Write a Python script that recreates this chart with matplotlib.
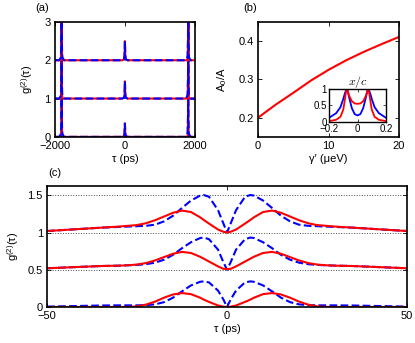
import numpy as np
import matplotlib
matplotlib.use('Agg')
import matplotlib.pyplot as plt

plt.rcParams['font.family'] = ['Liberation Sans', 'DejaVu Sans']
plt.rcParams['font.size'] = 8
plt.rcParams['mathtext.fontset'] = 'custom'
plt.rcParams['mathtext.rm'] = 'Liberation Sans'
plt.rcParams['mathtext.default'] = 'regular'
plt.rcParams['axes.linewidth'] = 1.2

RED = '#ff0000'
BLUE = '#0000ff'

# ---- panel (a): wide time window, three traces offset by 0, 1, 2
tau_a = [-2000, -1880, -1840, -1825, -1815, -1810, -1805, -1795, -1780, -1740,
         -80, -25, -10, 0, 10, 25, 80,
         1740, 1780, 1795, 1805, 1810, 1815, 1825, 1840, 1880, 2000]
red_a0 = [0, 0, 0, 0.03, 0.5, 4.0, 0.5, 0.03, 0, 0,
          0, 0.02, 0.1, 0.35, 0.1, 0.02, 0,
          0, 0, 0.03, 0.5, 4.0, 0.5, 0.03, 0, 0, 0]
red_a1 = [1, 1, 1, 1.03, 1.5, 5.0, 1.5, 1.03, 1, 1,
          1, 1.02, 1.12, 1.45, 1.12, 1.02, 1,
          1, 1, 1.03, 1.5, 5.0, 1.5, 1.03, 1, 1, 1]
red_a2 = [2, 2, 2, 2.03, 2.5, 6.0, 2.5, 2.03, 2, 2,
          2, 2.02, 2.13, 2.5, 2.13, 2.02, 2,
          2, 2, 2.03, 2.5, 6.0, 2.5, 2.03, 2, 2, 2]
blue_a0 = [0, 0, 0.06, 0.12, 0.6, 4.0, 0.6, 0.12, 0.06, 0,
           0, 0.02, 0.1, 0.35, 0.1, 0.02, 0,
           0, 0.06, 0.12, 0.6, 4.0, 0.6, 0.12, 0.06, 0, 0]
blue_a1 = [1, 1, 1.06, 1.12, 1.6, 5.0, 1.6, 1.12, 1.06, 1,
           1, 1.02, 1.12, 1.45, 1.12, 1.02, 1,
           1, 1.06, 1.12, 1.6, 5.0, 1.6, 1.12, 1.06, 1, 1]
blue_a2 = [2, 2, 2.06, 2.12, 2.6, 6.0, 2.6, 2.12, 2.06, 2,
           2, 2.02, 2.13, 2.5, 2.13, 2.02, 2,
           2, 2.06, 2.12, 2.6, 6.0, 2.6, 2.12, 2.06, 2, 2]

# ---- panel (b): A0/A vs gamma'
gamma_b = [0, 2.5, 5, 7.5, 10, 12.5, 15, 17.5, 20]
ratio_b = [0.200, 0.234, 0.265, 0.297, 0.325, 0.350, 0.372, 0.392, 0.411]

# inset of (b): spectra vs x/c
x_in = [-0.2, -0.15, -0.12, -0.1, -0.09, -0.08, -0.075, -0.07, -0.06, -0.04, -0.02, 0,
        0.02, 0.04, 0.06, 0.07, 0.075, 0.08, 0.09, 0.1, 0.12, 0.15, 0.2]
red_in = [0.03, 0.07, 0.16, 0.38, 0.65, 0.93, 1.0, 0.96, 0.8, 0.63, 0.56, 0.55,
          0.56, 0.63, 0.8, 0.96, 1.0, 0.93, 0.65, 0.38, 0.16, 0.07, 0.03]
blue_in = [0.13, 0.27, 0.45, 0.7, 0.85, 0.97, 1.0, 0.96, 0.76, 0.42, 0.24, 0.2,
           0.24, 0.42, 0.76, 0.96, 1.0, 0.97, 0.85, 0.7, 0.45, 0.27, 0.13]

# ---- panel (c): short time window, read for tau >= 0 (curves are symmetric)
tau_half = [0, 1, 2.5, 5, 6.5, 7.5, 10, 12.5, 15, 17.5, 20, 22.5, 25, 27.5, 30, 35, 40, 45, 50]
red_c0 = [0, 0.004, 0.02, 0.068, 0.1, 0.125, 0.172, 0.187, 0.168, 0.125, 0.072, 0.032,
          0.008, 0.001, 0, 0, 0, 0, 0]
red_c1 = [0.51, 0.512, 0.545, 0.61, 0.65, 0.675, 0.725, 0.74, 0.715, 0.67, 0.625, 0.59,
          0.57, 0.56, 0.555, 0.55, 0.54, 0.53, 0.52]
red_c2 = [1.0, 1.01, 1.04, 1.12, 1.17, 1.205, 1.275, 1.295, 1.265, 1.215, 1.165, 1.125,
          1.1, 1.09, 1.08, 1.065, 1.05, 1.035, 1.02]
blue_c0 = [0, 0.1, 0.22, 0.33, 0.344, 0.338, 0.29, 0.21, 0.125, 0.065, 0.035, 0.025,
           0.022, 0.022, 0.022, 0.02, 0.015, 0.01, 0.005]
blue_c1 = [0.5, 0.6, 0.77, 0.91, 0.933, 0.925, 0.87, 0.79, 0.7, 0.635, 0.595, 0.575,
           0.565, 0.56, 0.555, 0.55, 0.54, 0.53, 0.52]
blue_c2 = [1.0, 1.12, 1.3, 1.48, 1.504, 1.495, 1.43, 1.33, 1.225, 1.15, 1.105, 1.09,
           1.085, 1.08, 1.075, 1.065, 1.05, 1.035, 1.02]


def mirror(vals):
    v = np.asarray(vals, dtype=float)
    return np.r_[v[:0:-1], v]


tau_c = np.r_[-np.asarray(tau_half[:0:-1], dtype=float), tau_half]


def matlab_axes(ax):
    ax.tick_params(direction='in', top=True, right=True, length=3, width=0.6,
                   labelsize=8, pad=3)


fig = plt.figure(figsize=(4.15, 3.43), dpi=100)

# (a)
ax_a = fig.add_axes([0.1325, 0.601, 0.337, 0.335])
for r, b in [(red_a0, blue_a0), (red_a1, blue_a1), (red_a2, blue_a2)]:
    ax_a.plot(tau_a, r, color=RED, lw=1.5)
    ax_a.plot(tau_a, b, color=BLUE, lw=1.5, ls='--')
ax_a.set_xlim(-2000, 2000)
ax_a.set_ylim(0, 3)
ax_a.set_xticks([-2000, 0, 2000])
ax_a.set_yticks([0, 1, 2, 3])
ax_a.set_xticklabels(['\u22122000', '0', '2000'])
ax_a.set_xlabel('τ (ps)', labelpad=2)
ax_a.set_ylabel('g$^{(2)}$(τ)', labelpad=7)
matlab_axes(ax_a)
fig.text(0.102, 0.978, '(a)', fontsize=8, ha='center', va='center')

# (b)
ax_b = fig.add_axes([0.6217, 0.601, 0.34, 0.335])
ax_b.plot(gamma_b, ratio_b, color=RED, lw=1.5)
ax_b.set_xlim(0, 20)
ax_b.set_ylim(0.15, 0.45)
ax_b.set_xticks([0, 10, 20])
ax_b.set_yticks([0.2, 0.3, 0.4])
ax_b.set_xlabel('γ\u2032 (μeV)', labelpad=2)
ax_b.set_ylabel('A$_0$/A', labelpad=7)
matlab_axes(ax_b)
fig.text(0.603, 0.978, '(b)', fontsize=8, ha='center', va='center')

ax_in = fig.add_axes([0.793, 0.644, 0.137, 0.097])
ax_in.plot(x_in, blue_in, color=BLUE, lw=1.3)
ax_in.plot(x_in, red_in, color=RED, lw=1.3)
ax_in.set_xlim(-0.2, 0.2)
ax_in.set_ylim(0, 1)
ax_in.set_xticks([-0.2, 0, 0.2])
ax_in.set_xticklabels(['\u22120.2', '0', '0.2'])
ax_in.set_yticks([0, 0.5, 1])
ax_in.set_yticklabels(['0', '0.5', '1'])
ax_in.tick_params(direction='in', top=True, right=True, length=2, width=0.5,
                  labelsize=7, pad=1.5)
for s in ax_in.spines.values():
    s.set_linewidth(1.0)
ax_in.set_title(r'$\mathit{x/c}$', math_fontfamily='cm', fontsize=8.5, pad=3)

# (c)
ax_c = fig.add_axes([0.1133, 0.105, 0.8675, 0.3528])
ax_c.yaxis.grid(True, linestyle=':', color='0.3', lw=0.7)
ax_c.set_axisbelow(True)
for r, b in [(red_c0, blue_c0), (red_c1, blue_c1), (red_c2, blue_c2)]:
    ax_c.plot(tau_c, mirror(b), color=BLUE, lw=1.5, ls='--')
    ax_c.plot(tau_c, mirror(r), color=RED, lw=1.5)
ax_c.set_xlim(-50, 50)
ax_c.set_ylim(0, 1.625)
ax_c.set_xticks([-50, 0, 50])
ax_c.set_xticklabels(['\u221250', '0', '50'])
ax_c.set_yticks([0, 0.5, 1, 1.5])
ax_c.set_yticklabels(['0', '0.5', '1', '1.5'])
ax_c.set_xlabel('τ (ps)', labelpad=2)
ax_c.set_ylabel('g$^{(2)}$(τ)', labelpad=5)
matlab_axes(ax_c)
fig.text(0.133, 0.497, '(c)', fontsize=8, ha='center', va='center')

fig.savefig('out.png', dpi=100)
